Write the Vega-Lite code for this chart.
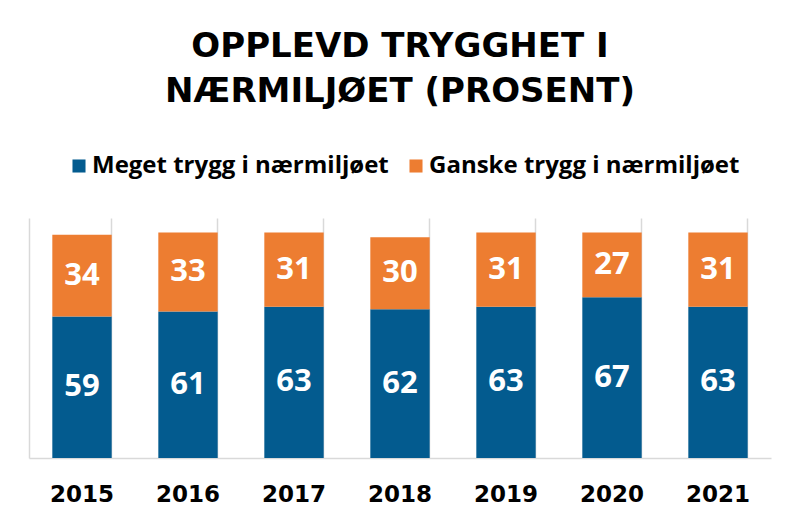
{
  "$schema": "https://vega.github.io/schema/vega-lite/v6.json",
  "width": 742,
  "height": 240,
  "autosize": {"type": "none"},
  "padding": {"left": 29, "top": 218, "right": 29, "bottom": 71},
  "background": "white",
  "title": {
    "text": ["OPPLEVD TRYGGHET I", "NÆRMILJØET (PROSENT)"],
    "font": "DejaVu Sans",
    "fontSize": 34,
    "fontWeight": "bold",
    "color": "#000000",
    "anchor": "middle",
    "lineHeight": 45,
    "offset": 45
  },
  "data": {
    "values": [
      {"year": "2015", "cat": "Meget trygg i nærmiljøet", "k": 1, "v": 59},
      {"year": "2015", "cat": "Ganske trygg i nærmiljøet", "k": 2, "v": 34},
      {"year": "2016", "cat": "Meget trygg i nærmiljøet", "k": 1, "v": 61},
      {"year": "2016", "cat": "Ganske trygg i nærmiljøet", "k": 2, "v": 33},
      {"year": "2017", "cat": "Meget trygg i nærmiljøet", "k": 1, "v": 63},
      {"year": "2017", "cat": "Ganske trygg i nærmiljøet", "k": 2, "v": 31},
      {"year": "2018", "cat": "Meget trygg i nærmiljøet", "k": 1, "v": 62},
      {"year": "2018", "cat": "Ganske trygg i nærmiljøet", "k": 2, "v": 30},
      {"year": "2019", "cat": "Meget trygg i nærmiljøet", "k": 1, "v": 63},
      {"year": "2019", "cat": "Ganske trygg i nærmiljøet", "k": 2, "v": 31},
      {"year": "2020", "cat": "Meget trygg i nærmiljøet", "k": 1, "v": 67},
      {"year": "2020", "cat": "Ganske trygg i nærmiljøet", "k": 2, "v": 27},
      {"year": "2021", "cat": "Meget trygg i nærmiljøet", "k": 1, "v": 63},
      {"year": "2021", "cat": "Ganske trygg i nærmiljøet", "k": 2, "v": 31}
    ]
  },
  "transform": [
    {"stack": "v", "groupby": ["year"], "sort": [{"field": "k", "order": "ascending"}], "as": ["v0", "v1"]},
    {"calculate": "(datum.v0 + datum.v1) / 2", "as": "mid"}
  ],
  "encoding": {
    "x": {
      "field": "year",
      "type": "nominal",
      "scale": {"paddingInner": 0.44, "paddingOuter": 0.22},
      "axis": {
        "title": null,
        "bandPosition": 1,
        "ticks": false,
        "grid": true,
        "gridColor": "#d9d9d9",
        "gridWidth": 1.5,
        "domainColor": "#d9d9d9",
        "domainWidth": 1.5,
        "labelAngle": 0,
        "labelFont": "DejaVu Sans",
        "labelFontSize": 23,
        "labelFontWeight": "bold",
        "labelColor": "#000000",
        "labelPadding": 25
      }
    }
  },
  "layer": [
    {
      "mark": {"type": "bar"},
      "encoding": {
        "y": {
          "field": "v0",
          "type": "quantitative",
          "scale": {"domain": [0, 100], "nice": false},
          "axis": {
            "title": null,
            "labels": false,
            "ticks": false,
            "grid": false,
            "domain": true,
            "domainColor": "#d9d9d9",
            "domainWidth": 1.5
          }
        },
        "y2": {"field": "v1"},
        "color": {
          "field": "cat",
          "type": "nominal",
          "scale": {
            "domain": ["Meget trygg i nærmiljøet", "Ganske trygg i nærmiljøet"],
            "range": ["#035B8F", "#ED7D31"]
          },
          "legend": {
            "title": null,
            "orient": "none",
            "legendX": 38,
            "legendY": -64,
            "direction": "horizontal",
            "symbolType": "square",
            "symbolSize": 170,
            "symbolStrokeWidth": 0,
            "symbolOpacity": 1,
            "labelFont": "Open Sans",
            "labelFontSize": 24,
            "labelFontWeight": "bold",
            "labelColor": "#000000",
            "labelLimit": 400,
            "labelOffset": 1,
            "columnPadding": 15
          }
        }
      }
    },
    {
      "mark": {
        "type": "text",
        "color": "white",
        "font": "Open Sans",
        "fontSize": 31,
        "fontWeight": "bold",
        "baseline": "middle"
      },
      "encoding": {
        "y": {"field": "mid", "type": "quantitative"},
        "text": {"field": "v", "type": "quantitative"}
      }
    }
  ],
  "config": {
    "view": {"stroke": null}
  }
}
